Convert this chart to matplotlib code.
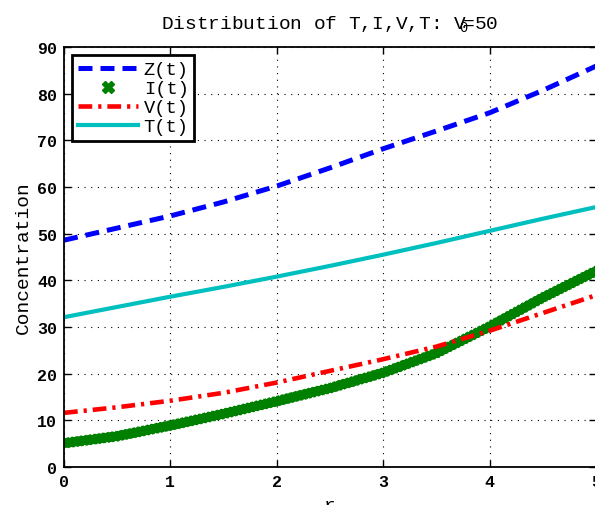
import matplotlib
matplotlib.use("Agg")
import matplotlib.pyplot as plt
from matplotlib.lines import Line2D
import matplotlib.patheffects as pe

# ---- data ----
r = [0, 0.5, 1, 1.5, 2, 2.5, 3, 3.5, 4, 4.5, 5]
Z = [48.6, 51.2, 53.8, 56.8, 60.2, 64.1, 68.2, 72.0, 75.9, 80.7, 85.9]
I = [5.1, 6.6, 8.9, 11.4, 14.1, 16.9, 20.2, 24.4, 30.1, 36.3, 42.0]
V = [11.6, 12.8, 14.2, 15.9, 18.1, 20.6, 23.1, 25.8, 29.2, 33.0, 36.8]
T = [32.1, 34.3, 36.5, 38.6, 40.8, 43.1, 45.5, 48.0, 50.6, 53.2, 55.7]
labels = ["Z(t)", "I(t)", "V(t)", "T(t)"]
xticks = [0, 1, 2, 3, 4, 5]
yticks = [0, 10, 20, 30, 40, 50, 60, 70, 80, 90]

plt.rcParams['font.family'] = ['Liberation Mono', 'DejaVu Sans']
plt.rcParams['mathtext.fontset'] = 'custom'
plt.rcParams['mathtext.rm'] = 'Liberation Mono'
plt.rcParams['mathtext.it'] = 'Liberation Mono'

fig = plt.figure(figsize=(5.95, 5.06), dpi=100)
ax = fig.add_axes([64 / 595, 1 - 468 / 506, 532 / 595, 420 / 506])

green = (0, 0.5, 0)
zl, = ax.plot(r, Z, color='blue', lw=3.6, dashes=(2.8, 1.6), dash_capstyle='butt')
effects = [pe.withTickedStroke(spacing=3.2, angle=a, length=1.35, linewidth=2.8,
                               foreground=green) for a in (45, 135, -45, -135)]
il, = ax.plot(r, I, color=green, lw=6.3, solid_capstyle='butt', path_effects=effects + [pe.Normal()])
vl, = ax.plot(r, V, color='red', lw=3.3, dashes=(3.0, 1.3, 0.7, 1.3), dash_capstyle='butt')
tl, = ax.plot(r, T, color=(0, 0.75, 0.75), lw=3.0)

ax.set_xlim(0, 5)
ax.set_ylim(0, 90)
ax.set_xticks(xticks)
ax.set_yticks(yticks)
ax.tick_params(direction='in', length=5, width=1, top=True, right=True,
               labelsize=12, pad=5)
for lab in ax.get_xticklabels() + ax.get_yticklabels():
    lab.set_fontweight('bold')
for s in ax.spines.values():
    s.set_linewidth(1.3)
ax.grid(True, color='black', linestyle=(0, (1, 5)), linewidth=0.8)

ax.set_ylabel("Concentration", fontsize=14, labelpad=4)
ax.set_xlabel("r", fontsize=14, labelpad=6)
ax.set_title(r"Distribution of T,I,V,T: V$\!\!\!_{0}\!\!\!$=50", fontsize=14, pad=14)

proxy_i = Line2D([], [], ls='none', marker='X', markersize=9, color=green, mec=green)
leg = ax.legend([zl, proxy_i, vl, tl], labels, loc='upper left', fontsize=13.5,
                handlelength=3.2, handletextpad=0.3, labelspacing=0.1,
                borderpad=0.3, borderaxespad=0.45, fancybox=False, framealpha=1)
leg.get_frame().set_edgecolor('black')
leg.get_frame().set_linewidth(2.0)

fig.savefig("out.png", dpi=100)
